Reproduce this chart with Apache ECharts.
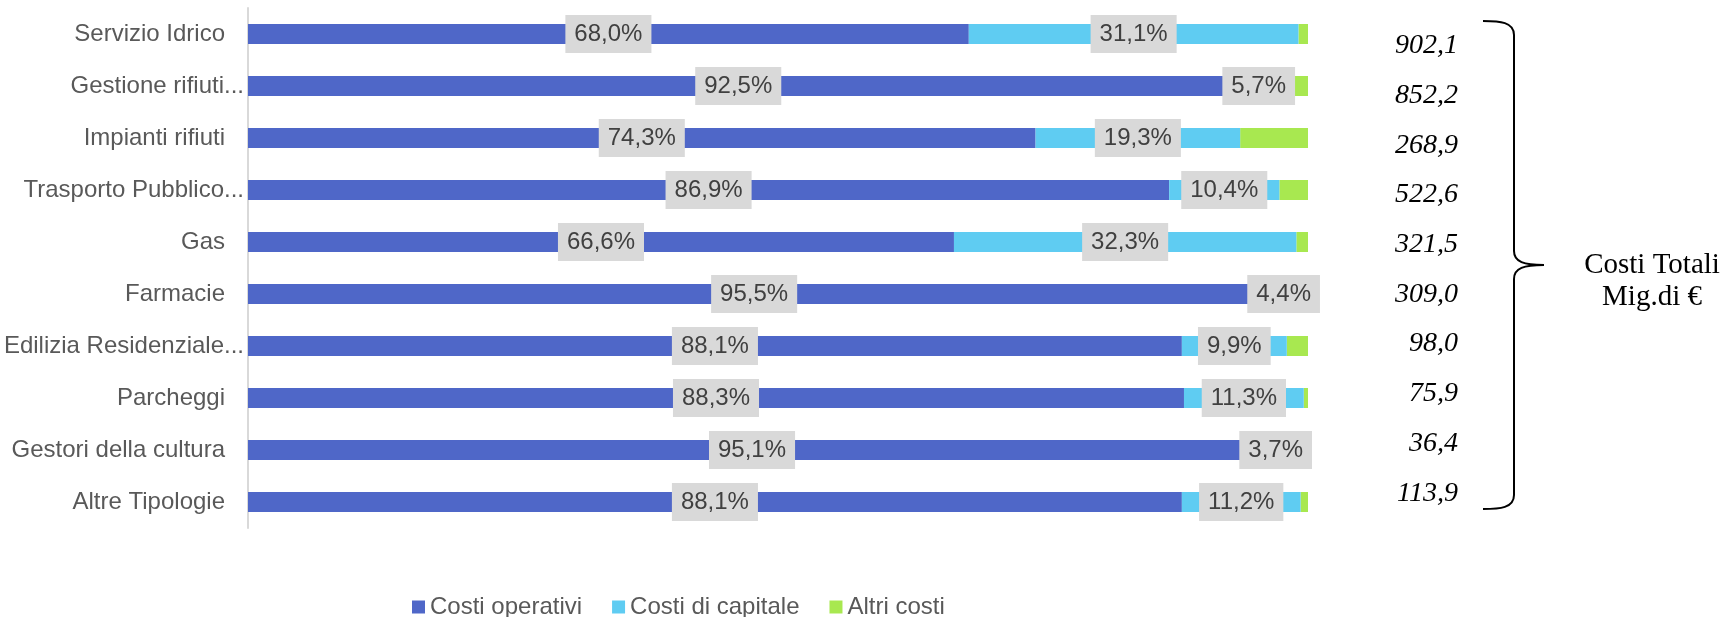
<!DOCTYPE html>
<html>
<head>
<meta charset="utf-8">
<script src="https://cdn.jsdelivr.net/npm/echarts@6/dist/echarts.min.js"></script>
<style>
html, body { margin: 0; padding: 0; background: #fff; }
#chart { width: 1733px; height: 617px; }
</style>
</head>
<body>
<div id="chart"></div>
<script>
var categorie = ['Servizio Idrico', 'Gestione rifiuti...', 'Impianti rifiuti', 'Trasporto Pubblico...', 'Gas',
	'Farmacie', 'Edilizia Residenziale...', 'Parcheggi', 'Gestori della cultura', 'Altre Tipologie'];
var costiOperativi = [68.0, 92.5, 74.3, 86.9, 66.6, 95.5, 88.1, 88.3, 95.1, 88.1];
var costiCapitale = [31.1, 5.7, 19.3, 10.4, 32.3, 4.4, 9.9, 11.3, 3.7, 11.2];
var altriCosti = [0.9, 1.8, 6.4, 2.7, 1.1, 0.1, 2.0, 0.4, 1.2, 0.7];
var costiTotali = [902.1, 852.2, 268.9, 522.6, 321.5, 309.0, 98.0, 75.9, 36.4, 113.9];

var virgola = function (v) {
	return v.toFixed(1).replace('.', ',');
};

var etichetta = {
	show: true,
	position: 'inside',
	formatter: function (p) { return virgola(p.value) + '%'; },
	fontFamily: 'Liberation Sans',
	fontSize: 24,
	lineHeight: 24,
	color: '#404040',
	backgroundColor: '#d9d9d9',
	padding: [7, 9, 7, 9]
};

// parentesi graffa a destra
var tratto = { fill: 'none', stroke: '#000', lineWidth: 2 };
var curva = function (x1, y1, c1x, c1y, c2x, c2y, x2, y2) {
	return { type: 'bezierCurve', shape: { x1: x1, y1: y1, cpx1: c1x, cpy1: c1y, cpx2: c2x, cpy2: c2y, x2: x2, y2: y2 }, style: tratto };
};
var linea = function (x1, y1, x2, y2) {
	return { type: 'line', shape: { x1: x1, y1: y1, x2: x2, y2: y2 }, style: tratto };
};

var myChart = echarts.init(document.getElementById('chart'));
var option = {
	animation: false,
	grid: [
		{ left: 248, right: 425, top: 8, bottom: 89 },
		{ left: 248, right: 425, top: 21, bottom: 99 }
	],
	legend: {
		left: 407,
		top: 590,
		icon: 'rect',
		itemWidth: 13,
		itemHeight: 13,
		itemGap: 30,
		textStyle: { fontFamily: 'Liberation Sans', fontSize: 24, color: '#595959' },
		data: ['Costi operativi', 'Costi di capitale', 'Altri costi']
	},
	xAxis: [
		{ type: 'value', gridIndex: 0, min: 0, max: 100, show: false },
		{ type: 'value', gridIndex: 1, min: 0, max: 1, show: false }
	],
	yAxis: [
		{
			type: 'category',
			gridIndex: 0,
			inverse: true,
			data: categorie,
			axisLine: { lineStyle: { color: '#d9d9d9', width: 2 } },
			axisTick: { show: false },
			axisLabel: {
				margin: 4,
				formatter: function (v) {
					return v.slice(-3) === '...' ? '{t|' + v + '}' : '{n|' + v + '}';
				},
				rich: {
					n: { fontFamily: 'Liberation Sans', fontSize: 24, color: '#595959', padding: [0, 19, 0, 0] },
					t: { fontFamily: 'Liberation Sans', fontSize: 24, color: '#595959' }
				}
			}
		},
		{
			type: 'category',
			gridIndex: 1,
			inverse: true,
			position: 'right',
			data: costiTotali.map(virgola),
			axisLine: { show: false },
			axisTick: { show: false },
			axisLabel: {
				margin: 150,
				align: 'right',
				fontFamily: 'Liberation Serif',
				fontStyle: 'italic',
				fontSize: 28,
				color: '#000'
			}
		}
	],
	series: [
		{
			name: 'Costi operativi',
			type: 'bar',
			stack: 'tot',
			barWidth: 20,
			z: 3,
			itemStyle: { color: '#4f67c8' },
			label: etichetta,
			data: costiOperativi
		},
		{
			name: 'Costi di capitale',
			type: 'bar',
			stack: 'tot',
			barWidth: 20,
			z: 3,
			itemStyle: { color: '#5fccf2' },
			label: etichetta,
			data: costiCapitale
		},
		{
			name: 'Altri costi',
			type: 'bar',
			stack: 'tot',
			barWidth: 20,
			z: 2,
			itemStyle: { color: '#a8e850' },
			data: altriCosti
		}
	],
	graphic: [
		curva(1483, 21, 1500, 21, 1514, 22, 1514, 35),
		linea(1514, 35, 1514, 251),
		curva(1514, 251, 1514, 262, 1524, 265, 1544, 265),
		curva(1544, 265, 1524, 265, 1514, 268, 1514, 279),
		linea(1514, 279, 1514, 495),
		curva(1514, 495, 1514, 508, 1500, 509, 1483, 509),
		{
			type: 'text',
			x: 1652,
			y: 281,
			style: {
				text: 'Costi Totali\nMig.di €',
				align: 'center',
				verticalAlign: 'middle',
				fontFamily: 'Liberation Serif',
				fontSize: 29,
				lineHeight: 32,
				fill: '#000'
			}
		}
	]
};
myChart.setOption(option);
</script>
</body>
</html>
